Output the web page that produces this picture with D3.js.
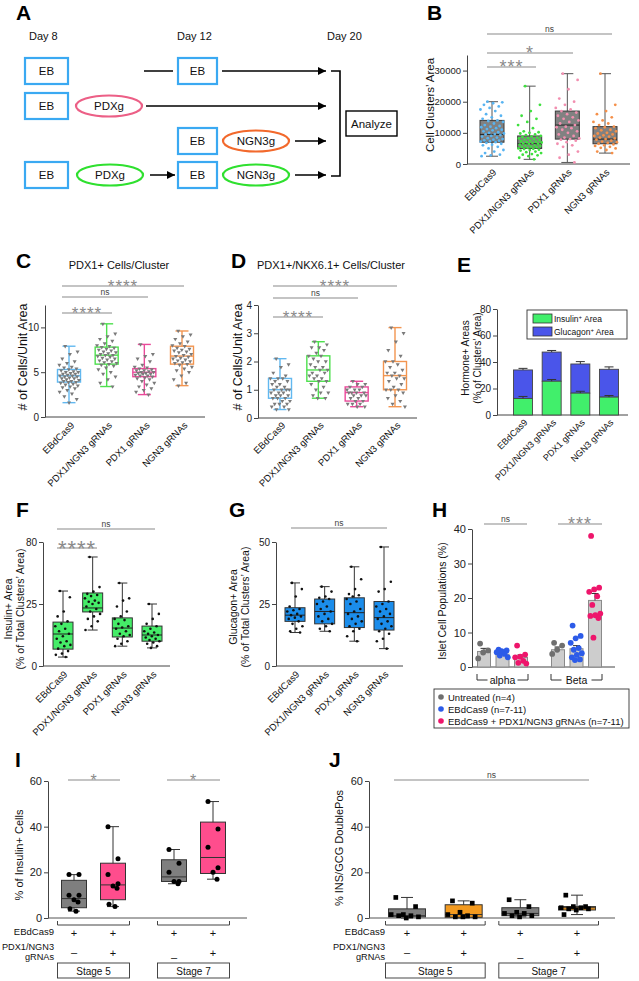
<!DOCTYPE html>
<html><head><meta charset="utf-8">
<script src="https://cdn.jsdelivr.net/npm/d3@7"></script>
<style>body{margin:0;background:#fff;}</style>
</head><body>
<svg id="fig" width="639" height="981"></svg>
<script>
// ================= DATA =================
const groups4 = ["EBdCas9","PDX1/NGN3 gRNAs","PDX1 gRNAs","NGN3 gRNAs"];

// Panel A (schematic)
const aDays = ["Day 8","Day 12","Day 20"];
const aNodes = ["EB","PDXg","NGN3g"];
const aAnalyze = "Analyze";

// Panel B: Cell clusters' area  [min,q1,median,q3,max]
const bTicks = [0,10000,20000,30000];
const bStats = [[2500,7000,9500,14000,20000],[1500,5000,6500,9000,25000],[500,8000,12500,17000,29000],[3500,6500,8000,12000,29000]];
const bPtsEB = [20000,19800,19500,19000,18500,18000,17500,17000,16000,15500,15000,14500,14000,13800,13500,13000,12500,12200,12000,11800,11500,11200,11000,10800,10500,10200,10000,9800,9600,9500,9300,9000,8800,8500,8300,8000,7800,7600,7500,7300,7200,7000,6800,6500,6200,6000,5500,5000,4500,4000,3500,3000,2800,2500];
const bPtsPN = [25000,19000,17000,15500,14500,13500,12500,11500,10500,10200,10000,9800,9500,9300,9000,8800,8700,8500,8300,8200,8000,7800,7700,7500,7300,7200,7000,6900,6800,6600,6500,6400,6200,6000,5900,5800,5600,5500,5400,5200,5000,4900,4800,4600,4500,4300,4000,3800,3500,3200,3000,2800,2500,2000,1500];
const bPtsP = [29000,27000,24000,21000,20000,19000,18000,17500,17000,16500,16000,15500,15000,14500,14000,13500,13000,12500,12000,11800,11500,11000,10500,10000,9500,9000,8500,8200,8000,7800,7500,7000,6500,6000,5500,4000,3000,2000,500];
const bPtsN = [29000,19000,17000,16000,15000,14000,13500,13000,12500,12000,11800,11500,11000,10800,10500,10000,9800,9500,9200,9000,8800,8500,8200,8000,7800,7500,7200,7000,6800,6500,6300,6000,5800,5500,5200,5000,4500,4000,3500];

// Panel C: PDX1+ cells/cluster
const cTicks = [0,5,10];
const cStats = [[1.6,3.9,4.6,5.3,7.9],[3.4,5.9,6.9,7.8,10.4],[2.5,4.5,5.0,5.4,8.1],[3.5,5.9,6.8,7.9,9.6]];
const cPtsEB = [7.9,7.3,7.0,6.5,6.2,6.0,5.8,5.6,5.5,5.4,5.3,5.2,5.1,5.0,5.0,4.9,4.8,4.8,4.7,4.6,4.6,4.5,4.5,4.4,4.3,4.3,4.2,4.1,4.0,4.0,3.9,3.9,3.8,3.7,3.6,3.5,3.4,3.3,3.2,3.0,2.8,2.6,2.3,2.0,1.6];
const cPtsPN = [10.4,9.3,9.0,8.7,8.5,8.2,8.0,7.9,7.8,7.7,7.6,7.5,7.4,7.3,7.2,7.1,7.0,6.9,6.9,6.8,6.7,6.6,6.5,6.4,6.3,6.2,6.1,6.0,5.9,5.8,5.7,5.5,5.3,5.0,4.8,4.5,4.2,3.8,3.4];
const cPtsP = [8.1,7.0,6.8,6.5,6.2,5.8,5.6,5.5,5.4,5.3,5.2,5.2,5.1,5.0,5.0,4.9,4.9,4.8,4.8,4.7,4.6,4.6,4.5,4.4,4.3,4.2,4.0,3.8,3.6,3.4,3.2,3.0,2.8,2.5];
const cPtsN = [9.6,9.2,9.0,8.7,8.4,8.2,8.0,7.9,7.7,7.6,7.5,7.4,7.3,7.2,7.0,6.9,6.8,6.7,6.6,6.5,6.4,6.3,6.2,6.1,6.0,5.9,5.8,5.6,5.4,5.2,5.0,4.6,4.2,3.8,3.5];

// Panel D: PDX1+/NKX6.1+ cells/cluster
const dTicks = [0,1,2,3,4];
const dStats = [[0.3,0.7,1.0,1.4,2.1],[0.7,1.3,1.7,2.2,2.7],[0.4,0.6,0.9,1.1,1.3],[0.4,1.0,1.5,2.0,3.2]];
const dPtsEB = [2.1,1.9,1.8,1.6,1.5,1.4,1.4,1.4,1.3,1.3,1.2,1.2,1.1,1.1,1.0,1.0,1.0,1.0,0.9,0.9,0.9,0.8,0.8,0.8,0.7,0.7,0.7,0.6,0.6,0.5,0.5,0.5,0.4,0.4,0.3,0.3];
const dPtsPN = [2.7,2.6,2.5,2.5,2.4,2.3,2.2,2.2,2.1,2.0,2.0,1.9,1.8,1.8,1.7,1.7,1.6,1.6,1.5,1.5,1.4,1.4,1.3,1.3,1.2,1.1,1.0,0.9,0.9,0.8,0.7,0.7];
const dPtsP = [1.3,1.2,1.2,1.1,1.1,1.0,1.0,1.0,0.9,0.9,0.9,0.9,0.8,0.8,0.8,0.7,0.7,0.6,0.6,0.5,0.5,0.5,0.4,0.4];
const dPtsN = [3.2,3.0,2.7,2.4,2.2,2.0,2.0,1.9,1.8,1.7,1.6,1.6,1.5,1.5,1.4,1.4,1.3,1.2,1.1,1.0,1.0,1.0,0.9,0.8,0.7,0.6,0.5,0.4];

// Panel E: hormone+ areas (stacked means)
const eTicks = [0,20,40,60,80];
const eInsulin = [12.5,25.5,16.5,13.5];
const eInsulinErr = [1.5,1.3,1.4,1.2];
const eGlucagon = [21.5,22.0,22.0,21.0];
const eTotalErr = [1.2,1.2,1.8,1.8];
const eLegend = ["Insulin","Glucagon"];

// Panel F: insulin+ area
const fTicks = [0,25,80];
const fStats = [[3.6,6.8,12.9,17.7,36.5],[14.5,21.8,23.4,34.8,66.7],[8,11.7,15.3,19.4,43.6],[7.3,10,12.5,16.1,25]];
const fPts = [[36.5,31,22,20,18,17,16,15,14,13,12,11,10,9.5,8.5,8,7,6,5,4.5,3.6],
              [66.7,40,36,34,33,32,30,28,27,26,25,24,23,22,21,20,19,18,16,14.5],
              [43.6,30,28,24,22,20,19,18.5,17,16,15.5,15,14,13,12.5,12,11,10,9,8],
              [25,21,19,17,16,15,14,13.5,13,12.5,12,11.5,11,10.5,10,9.5,9,8,7.3]];

// Panel G: glucagon+ area
const gTicks = [0,25,50];
const gStats = [[13.5,18,20.5,23.5,33.5],[14,17,22,27,32],[10,15.5,21.5,27.5,40],[7,14.5,19.5,26,48]];
const gPts = [[33.5,31,28,24,23,22.5,22,21,20.5,20,19.5,19,18,17,16,15,14,13.5],
              [32,30,28,27.5,27,26,25,24,23,22,21,20,19,18,17,16,15,14],
              [40,35,31,29,28.5,28,27,26,25,23,22,21,20,19,18,17,16,15,14,12,10],
              [48,34,31,30,26,25,24,23,22,21,20,19,18,17,16,15,14,13,11,10,7]];

// Panel H: islet cell populations
const hTicks = [0,10,20,30,40];
const hGroups = ["alpha","Beta"];
const hSeries = ["Untreated (n=4)","EBdCas9 (n=7-11)","EBdCas9 + PDX1/NGN3 gRNAs (n=7-11)"];
const hMeans = [[4.5,3.7,2.8],[5.0,5.3,19.3]];
const hErr = [[0.9,0.4,0.7],[0.8,0.9,2.0]];
const hPts = [[[6.8,4.8,4.2,2.5],[5.0,4.8,4.6,4.3,3.8,3.3,2.8],[6.2,3.6,3.0,2.8,1.8,1.2,1.0]],
              [[7.0,6.2,5.0,3.8],[12.0,9.0,8.3,7.0,5.5,5.0,4.0,3.5,2.8,2.2,2.0],[38,23,22.5,21.8,20.5,18,15.5,15,14.8,14.2,8.5]]];

// Panels I & J
const ijTicks = [0,20,40,60];
const ijRow1 = ["+","+","+","+"];
const ijRow2 = ["\u2013","+","\u2013","+"];
const ijStages = ["Stage 5","Stage 7"];
const iStats = [[3,4.5,8.5,16.5,19],[5,8,14.5,24,40],[15,16,18,25.5,30],[17,19.5,26.5,42,51]];
const iPts = [[19,19,10,10,8,7,4,3],[40,26,19,15,14,13,6,5],[30,24,20,16,16,15],[51,39,31,22,20,17]];
const jStats = [[0,0.5,1,4,9],[0,0.3,1.5,5.8,7.5],[0.5,1,2,4.5,8],[1.5,3.5,4.5,5,10]];
const jPts = [[9,5,1.5,1.5,1,1,0.5,0],[7.5,6.5,2.5,1.5,1,0.5,0.5,0.5],[8,5,2.5,2,2,1,1,0.5],[10,5,5,4.5,4.5,4,4,3.5,1.5]];

// ================= HELPERS =================
const FONT = "'Liberation Sans', Arial, Helvetica, sans-serif";
const svg = d3.select("#fig").attr("font-family", FONT);

function txt(g, x, y, s, o = {}) {
  const t = g.append("text").attr("x", x).attr("y", y).text(s)
    .attr("font-size", o.fs || 10).attr("fill", o.fill || "#111");
  if (o.anchor) t.attr("text-anchor", o.anchor);
  if (o.weight) t.attr("font-weight", o.weight);
  if (o.ls) t.attr("letter-spacing", o.ls);
  return t;
}
function vtxt(g, x, y, s, fs) {
  return g.append("text").attr("transform", `translate(${x},${y}) rotate(-90)`)
    .attr("text-anchor", "middle").attr("font-size", fs).attr("fill", "#111").text(s);
}
function letter(s, x, y) { txt(svg, x, y, s, { fs: 21, weight: "bold", fill: "#000" }); }
function yAxis(g, y, x, ticks, fs, fmt) {
  const ax = d3.axisLeft(y).tickValues(ticks).tickSize(4).tickSizeOuter(0).tickPadding(2)
    .tickFormat(fmt || (d => d));
  const a = g.append("g").attr("transform", `translate(${x},0)`).call(ax);
  a.attr("font-family", FONT);
  a.selectAll("text").attr("font-size", fs).attr("fill", "#222");
  a.selectAll(".domain,.tick line").attr("stroke", "#444").attr("stroke-width", 1);
  return a;
}
function hline(g, x1, x2, y, col = "#444", w = 1) {
  return g.append("line").attr("x1", x1).attr("x2", x2).attr("y1", y).attr("y2", y).attr("stroke", col).attr("stroke-width", w);
}
function vline(g, x, y1, y2, col = "#444", w = 1) {
  return g.append("line").attr("x1", x).attr("x2", x).attr("y1", y1).attr("y2", y2).attr("stroke", col).attr("stroke-width", w);
}
function sig(g, x1, x2, y, label, fs) {
  hline(g, x1, x2, y, "#8a8a8a", 1.2);
  const star = label.indexOf("*") >= 0;
  const by = star ? y - 1.5 + 0.44 * fs : y - 2;
  txt(g, (x1 + x2) / 2, by, label, { fs, anchor: "middle", fill: star ? "#8a8a8a" : "#444", ls: star ? 1 : 0 });
}
function drawBoxes(g, x, y, stats, o) {
  stats.forEach((s, i) => {
    const cx = x(i), hw = o.bw / 2, ch = o.cap / 2, ws = o.whisk(i), lw = o.lw || 1;
    vline(g, cx, y(s[0]), y(s[4]), ws, lw);
    [s[0], s[4]].forEach(v => hline(g, cx - ch, cx + ch, y(v), ws, lw));
    g.append("rect").attr("x", cx - hw).attr("width", o.bw).attr("y", y(s[3]))
      .attr("height", y(s[1]) - y(s[3])).attr("fill", o.fill(i)).attr("stroke", o.stroke(i)).attr("stroke-width", lw);
    hline(g, cx - hw, cx + hw, y(s[2]), o.med(i), lw);
  });
}
function drawPts(g, x, y, pts, o) {
  pts.forEach((arr, i) => {
    const n = arr.length;
    arr.forEach((v, j) => {
      const off = o.offs ? o.offs(i, j, n) : ((j * 0.618034 + 0.31) % 1 - 0.5) * o.w;
      const px = x(i) + off, py = y(v);
      if (o.shape === "circle") g.append("circle").attr("cx", px).attr("cy", py).attr("r", o.r).attr("fill", o.fill(i));
      else g.append("path").attr("transform", `translate(${px},${py})${o.shape === "tri" ? " rotate(180)" : ""}`)
        .attr("d", d3.symbol().type(o.shape === "tri" ? d3.symbolTriangle : d3.symbolSquare).size(o.size)())
        .attr("fill", o.fill(i));
    });
  });
}
function xLabels(g, x, labels, y0, fs, dx = 6) {
  labels.forEach((t, i) => g.append("text").attr("transform", `translate(${x(i) + dx},${y0}) rotate(-45)`)
    .attr("text-anchor", "end").attr("font-size", fs).attr("fill", "#111").text(t));
}

// ================= PANEL A =================
{
  const g = svg.append("g");
  letter("A", 16, 20);
  txt(g, 29, 40, aDays[0], { fs: 11 });
  txt(g, 177, 40, aDays[1], { fs: 11 });
  txt(g, 327, 40, aDays[2], { fs: 11 });
  const defs = svg.append("defs");
  defs.append("marker").attr("id", "arr").attr("viewBox", "0 0 10 10").attr("refX", 10).attr("refY", 5)
    .attr("markerWidth", 10).attr("markerHeight", 8).attr("markerUnits", "userSpaceOnUse").attr("orient", "auto")
    .append("path").attr("d", "M0,0L10,5L0,10z").attr("fill", "#000");
  const box = (x1, x2, cy) => {
    g.append("rect").attr("x", x1).attr("y", cy - 13).attr("width", x2 - x1).attr("height", 26)
      .attr("fill", "#fff").attr("stroke", "#3aa9f2").attr("stroke-width", 2.2);
    txt(g, (x1 + x2) / 2, cy + 4, aNodes[0], { fs: 11.5, anchor: "middle" });
  };
  const ell = (cx, cy, col, label) => {
    g.append("ellipse").attr("cx", cx).attr("cy", cy).attr("rx", 33).attr("ry", 10.5)
      .attr("fill", "#fff").attr("stroke", col).attr("stroke-width", 2.2);
    txt(g, cx, cy + 4, label, { fs: 11.5, anchor: "middle" });
  };
  const arrow = (x1, x2, y, head = true) => {
    const l = hline(g, x1, x2, y, "#000", 1.5);
    if (head) l.attr("marker-end", "url(#arr)");
  };
  const r1 = 71, r2 = 106, r3 = 141, r4 = 175;
  box(25, 68, r1); arrow(144, 173, r1, false); box(178, 217, r1); arrow(222, 326, r1);
  box(25, 68, r2); ell(109, r2, "#ec5f86", aNodes[1]); arrow(146, 326, r2);
  box(178, 217, r3); ell(256, r3, "#f2692c", aNodes[2]); arrow(295, 326, r3);
  box(25, 68, r4); ell(110, r4, "#2fe02f", aNodes[1]); arrow(150, 175, r4);
  box(178, 217, r4); ell(256, r4, "#2fe02f", aNodes[2]); arrow(295, 326, r4);
  g.append("path").attr("d", `M331,${r1}H340V${r4 + 1}H331`).attr("fill", "none").attr("stroke", "#000").attr("stroke-width", 1.6);
  g.append("rect").attr("x", 346).attr("y", 111).attr("width", 51).attr("height", 25)
    .attr("fill", "#fff").attr("stroke", "#000").attr("stroke-width", 1.4);
  txt(g, 371.5, 128, aAnalyze, { fs: 11.5, anchor: "middle" });
}

// ================= PANEL B =================
{
  const g = svg.append("g");
  letter("B", 427, 20);
  const y = d3.scaleLinear().domain([0, 35000]).range([164, 55]);
  const x = d3.scalePoint().domain(d3.range(4)).range([492, 605]);
  yAxis(g, y, 467, bTicks, 9.5);
  hline(g, 467, 630, y(0));
  const bCol = ["#58b4f2", "#3fe03f", "#f28fb0", "#f5904a"];
  drawBoxes(g, x, y, bStats, { bw: 24, cap: 12, fill: () => "#818181", stroke: () => "#3a3a3a", whisk: () => "#555", med: () => "#222" });
  drawPts(g, x, y, [bPtsEB, bPtsPN, bPtsP, bPtsN], { w: 24, shape: "circle", r: 1.4, fill: i => bCol[i] });
  sig(g, 487, 536, 67, "***", 18);
  sig(g, 487, 573, 53, "*", 18);
  sig(g, 487, 612, 34, "ns", 8.5);
  xLabels(g, x, groups4, y(0) + 9, 9.5, 5);
  vtxt(g, 434, 105, "Cell Clusters\u2019 Area", 11.5);
}

// ================= PANEL C =================
{
  const g = svg.append("g");
  letter("C", 16, 268);
  txt(g, 119, 269, "PDX1+ Cells/Cluster", { fs: 11, anchor: "middle" });
  const y = d3.scaleLinear().domain([0, 12.5]).range([417, 305]);
  const x = d3.scalePoint().domain(d3.range(4)).range([69, 182]);
  yAxis(g, y, 45, cTicks, 10);
  hline(g, 45, 205, y(0));
  const col = ["#62b8f0", "#4ee04e", "#ea4a9a", "#f29550"];
  drawBoxes(g, x, y, cStats, { bw: 23, cap: 13, fill: () => "#fff", stroke: i => col[i], whisk: i => col[i], med: i => col[i], lw: 1.4 });
  drawPts(g, x, y, [cPtsEB, cPtsPN, cPtsP, cPtsN], { w: 20, shape: "tri", size: 7, fill: () => "#7a7a7a" });
  sig(g, 62, 112, 313, "****", 17);
  sig(g, 62, 148, 297, "ns", 8.5);
  sig(g, 62, 184, 286, "****", 17);
  xLabels(g, x, groups4, 426, 9.5, 6);
  vtxt(g, 27, 357, "# of Cells/Unit Area", 12.5);
}

// ================= PANEL D =================
{
  const g = svg.append("g");
  letter("D", 231, 268);
  txt(g, 257, 269, "PDX1+/NKX6.1+ Cells/Cluster", { fs: 11 });
  const y = d3.scaleLinear().domain([0, 4]).range([418, 305]);
  const x = d3.scalePoint().domain(d3.range(4)).range([280, 395]);
  yAxis(g, y, 258, dTicks, 10);
  hline(g, 258, 417, y(0));
  const col = ["#62b8f0", "#4ee04e", "#ea4a9a", "#f29550"];
  drawBoxes(g, x, y, dStats, { bw: 23, cap: 13, fill: () => "#fff", stroke: i => col[i], whisk: i => col[i], med: i => col[i], lw: 1.4 });
  drawPts(g, x, y, [dPtsEB, dPtsPN, dPtsP, dPtsN], { w: 20, shape: "tri", size: 7, fill: () => "#7a7a7a" });
  sig(g, 273, 323, 317, "****", 17);
  sig(g, 273, 358, 298, "ns", 8.5);
  sig(g, 273, 397, 286, "****", 17);
  xLabels(g, x, groups4, 426, 9.5, 6);
  vtxt(g, 242, 357, "# of Cells/Unit Area", 12.5);
}

// ================= PANEL E =================
{
  const g = svg.append("g");
  letter("E", 457, 272);
  const y = d3.scaleLinear().domain([0, 80]).range([415, 309]);
  const x = d3.scalePoint().domain(d3.range(4)).range([523, 609]);
  yAxis(g, y, 497, eTicks, 10);
  hline(g, 497, 628, y(0));
  const bw = 19;
  eInsulin.forEach((ins, i) => {
    const cx = x(i), tot = ins + eGlucagon[i];
    g.append("rect").attr("x", cx - bw / 2).attr("width", bw).attr("y", y(tot)).attr("height", y(ins) - y(tot))
      .attr("fill", "#4a55ea").attr("stroke", "#444").attr("stroke-width", 0.9);
    g.append("rect").attr("x", cx - bw / 2).attr("width", bw).attr("y", y(ins)).attr("height", y(0) - y(ins))
      .attr("fill", "#41ef6b").attr("stroke", "#444").attr("stroke-width", 0.9);
    [[tot, eTotalErr[i]], [ins, eInsulinErr[i]]].forEach(([v, e]) => {
      vline(g, cx, y(v), y(v + e), "#333", 1);
      hline(g, cx - 4.5, cx + 4.5, y(v + e), "#333", 1);
    });
  });
  // legend
  g.append("rect").attr("x", 527).attr("y", 310).attr("width", 100).attr("height", 29)
    .attr("fill", "#fff").attr("stroke", "#333").attr("stroke-width", 0.9);
  const lcol = ["#41ef6b", "#4a55ea"];
  eLegend.forEach((name, k) => {
    const ly = 314 + k * 13;
    g.append("rect").attr("x", 533).attr("y", ly).attr("width", 19).attr("height", 9)
      .attr("fill", lcol[k]).attr("stroke", "#333").attr("stroke-width", 0.8);
    const t = txt(g, 554, ly + 8, name, { fs: 8.5 });
    t.append("tspan").attr("baseline-shift", "super").attr("font-size", 6).text("+");
    t.append("tspan").text(" Area");
  });
  xLabels(g, x, groups4, 423, 9, 5);
  vtxt(g, 469, 358, "Hormone+ Areas", 10);
  vtxt(g, 481, 358, "(% of Clusters\u2019 Area)", 10);
}

// ================= PANEL F =================
{
  const g = svg.append("g");
  letter("F", 16, 517);
  const y = d3.scaleLinear().domain([0, 25, 80]).range([666, 604, 542]);
  const x = d3.scalePoint().domain(d3.range(4)).range([63, 152]);
  yAxis(g, y, 43, fTicks, 10);
  hline(g, 43, 170, y(0));
  drawBoxes(g, x, y, fStats, { bw: 20, cap: 10, fill: () => "#45ec68", stroke: () => "#333", whisk: () => "#333", med: () => "#222" });
  drawPts(g, x, y, fPts, { w: 16, shape: "circle", r: 1.3, fill: () => "#111" });
  sig(g, 57, 97, 548, "****", 22);
  sig(g, 57, 155, 529, "ns", 8.5);
  xLabels(g, x, groups4, 675, 9.5, 5);
  vtxt(g, 12, 609, "Insulin+ Area", 10.5);
  vtxt(g, 24, 609, "(% of Total Clusters\u2019 Area)", 10.5);
}

// ================= PANEL G =================
{
  const g = svg.append("g");
  letter("G", 229, 517);
  const y = d3.scaleLinear().domain([0, 50]).range([666, 542]);
  const x = d3.scalePoint().domain(d3.range(4)).range([295, 384]);
  yAxis(g, y, 276, gTicks, 10);
  hline(g, 276, 403, y(0));
  drawBoxes(g, x, y, gStats, { bw: 20, cap: 10, fill: () => "#1b8deb", stroke: () => "#333", whisk: () => "#333", med: () => "#222" });
  drawPts(g, x, y, gPts, { w: 16, shape: "circle", r: 1.3, fill: () => "#111" });
  sig(g, 291, 387, 528, "ns", 8.5);
  xLabels(g, x, groups4, 675, 9.5, 5);
  vtxt(g, 237, 607, "Glucagon+ Area", 10.5);
  vtxt(g, 249, 607, "(% of Total Clusters\u2019 Area)", 10.5);
}

// ================= PANEL H =================
{
  const g = svg.append("g");
  letter("H", 432, 517);
  const y = d3.scaleLinear().domain([0, 40]).range([667, 529]);
  const slots = ["a0", "a1", "a2", "gap", "b0", "b1", "b2"];
  const x = d3.scalePoint().domain(slots).range([484, 595]);
  const xs = (gi, si) => x((gi === 0 ? "a" : "b") + si);
  yAxis(g, y, 472, hTicks, 11);
  hline(g, 472, 615, y(0));
  const pcol = ["#6f6f6f", "#2c5be8", "#ee156b"];
  const bw = 13;
  hMeans.forEach((grp, gi) => grp.forEach((m, si) => {
    const cx = xs(gi, si);
    g.append("rect").attr("x", cx - bw / 2).attr("width", bw).attr("y", y(m)).attr("height", y(0) - y(m))
      .attr("fill", "#cdcdcd").attr("stroke", "#8a8a8a").attr("stroke-width", 1);
    const e = hErr[gi][si];
    vline(g, cx, y(m), y(m + e), "#333", 1);
    hline(g, cx - 3.5, cx + 3.5, y(m + e), "#333", 1);
    const arr = hPts[gi][si];
    arr.forEach((v, j) => {
      const off = ((j * 0.618034 + 0.2) % 1 - 0.5) * 13;
      g.append("circle").attr("cx", cx + off).attr("cy", y(v)).attr("r", 2.9).attr("fill", pcol[si]);
    });
  }));
  sig(g, 484, 527, 524, "ns", 8.5);
  sig(g, 558, 602, 524, "***", 18);
  hGroups.forEach((name, gi) => {
    const x1 = xs(gi, 0) - 7, x2 = xs(gi, 2) + 7, cx = xs(gi, 1), by = 680;
    g.append("path").attr("d", `M${x1},${by - 6}V${by}H${cx - 15}`).attr("fill", "none").attr("stroke", "#333");
    g.append("path").attr("d", `M${cx + 15},${by}H${x2}V${by - 6}`).attr("fill", "none").attr("stroke", "#333");
    txt(g, cx, by + 4, name, { fs: 10.5, anchor: "middle" });
  });
  g.append("rect").attr("x", 434).attr("y", 689).attr("width", 195).attr("height", 39)
    .attr("fill", "#fff").attr("stroke", "#333").attr("stroke-width", 0.9);
  hSeries.forEach((s, k) => {
    const ly = 697 + k * 12;
    g.append("circle").attr("cx", 441).attr("cy", ly).attr("r", 2.8).attr("fill", pcol[k]);
    txt(g, 448, ly + 3.5, s, { fs: 9.5 });
  });
  vtxt(g, 446, 601, "Islet Cell Populations (%)", 10.5);
}

// ================= PANELS I & J =================
function ijPanel(cfg) {
  const g = svg.append("g");
  letter(cfg.letter, cfg.lx, 767);
  const y = d3.scaleLinear().domain([0, 60]).range([918, 781]);
  const x = cfg.x;
  yAxis(g, y, cfg.ax, ijTicks, 11);
  hline(g, cfg.ax, cfg.right, y(0), "#555");
  drawBoxes(g, x, y, cfg.stats, { bw: cfg.bw, cap: 12, fill: i => (i % 2 ? cfg.hi : "#7f7f7f"), stroke: () => "#333", whisk: () => "#333", med: () => "#333" });
  drawPts(g, x, y, cfg.pts, { shape: cfg.shape, r: 2.5, size: 22, fill: () => "#000", offs: cfg.offs });
  cfg.sigs.forEach(s => sig(g, s[0], s[1], 780, s[2], s[2] === "ns" ? 8.5 : 16));
  [[0, 1], [2, 3]].forEach(([a, b], k) => {
    const x1 = x(a) - cfg.bw / 2 - cfg.bpad, x2 = x(b) + cfg.bw / 2 + cfg.bpad;
    g.append("path").attr("d", `M${x1},921V925H${x2}V921`).attr("fill", "none").attr("stroke", "#444");
    g.append("rect").attr("x", x1).attr("y", 963).attr("width", x2 - x1).attr("height", 15)
      .attr("fill", "#fff").attr("stroke", "#333").attr("stroke-width", 0.9);
    txt(g, (x1 + x2) / 2, 974.5, ijStages[k], { fs: 10, anchor: "middle" });
  });
  txt(g, cfg.lab, 935, "EBdCas9", { fs: 9.5, anchor: "end" });
  txt(g, cfg.lab, 950, "PDX1/NGN3", { fs: 9.2, anchor: "end" });
  txt(g, cfg.lab, 960, "gRNAs", { fs: 9.2, anchor: "end" });
  ijRow1.forEach((s, i) => txt(g, x(i), 937, s, { fs: 11, anchor: "middle" }));
  ijRow2.forEach((s, i) => txt(g, x(i), s === "+" ? 957 : (i === 2 ? 961 : 956), s, { fs: 11, anchor: "middle" }));
  vtxt(g, cfg.yl, cfg.ylc, cfg.ylabel, 11);
}
ijPanel({
  letter: "I", lx: 15, ax: 48, right: 247, bw: 25, bpad: 4, hi: "#ff4d8d", shape: "circle",
  x: d3.scaleLinear().domain([0, 1, 2, 3]).range([74, 113, 174, 213]),
  stats: iStats, pts: iPts,
  offs: (i, j, n) => [-5, 5, -5, 5, 0, 4, -4, 2][j % 8],
  sigs: [[68, 120, "*"], [167, 220, "*"]],
  lab: 54, yl: 23, ylc: 855, ylabel: "% of Insulin+ Cells"
});
ijPanel({
  letter: "J", lx: 329, ax: 369, right: 615, bw: 37, bpad: 3, hi: "#f39a1f", shape: "square",
  x: d3.scalePoint().domain(d3.range(4)).range([407, 577]),
  stats: jStats, pts: jPts,
  offs: (i, j, n) => ((j * 0.618034 + 0.15) % 1 - 0.5) * 32,
  sigs: [[394, 589, "ns"]],
  lab: 385, yl: 343, ylc: 848, ylabel: "% INS/GCG  DoublePos"
});
</script>
</body></html>
